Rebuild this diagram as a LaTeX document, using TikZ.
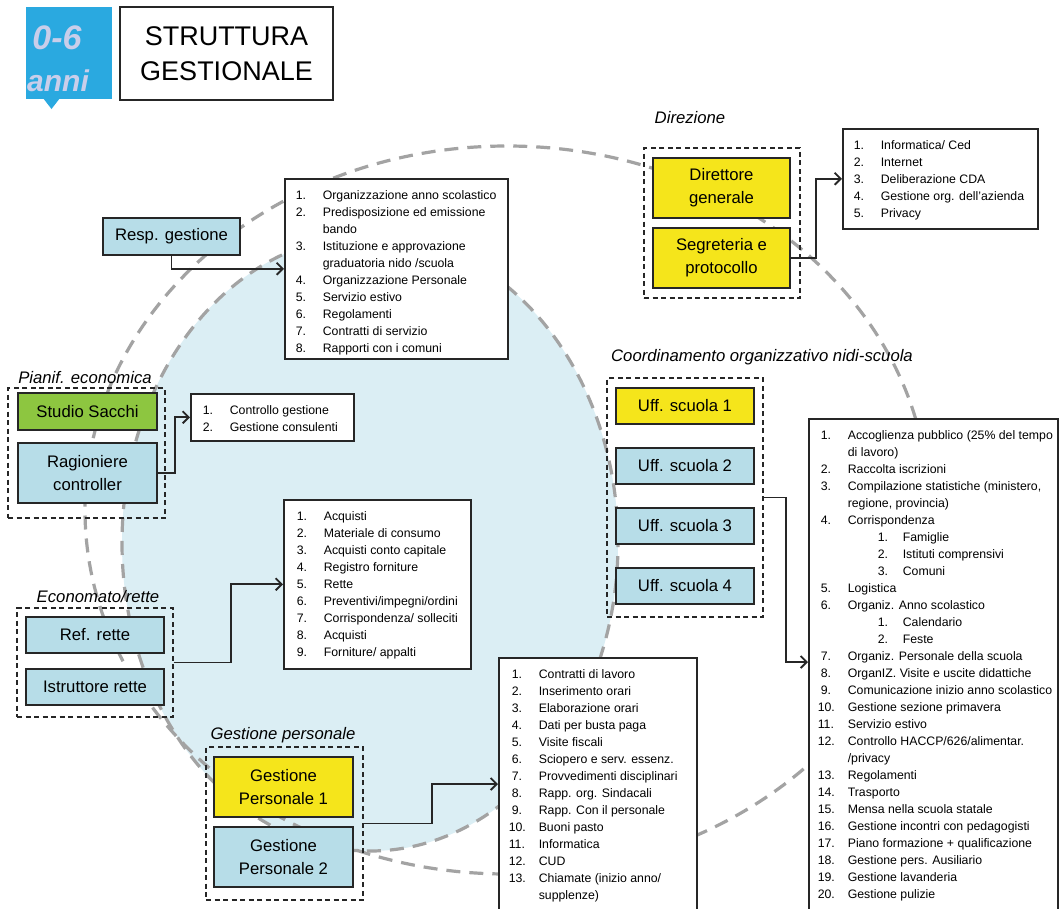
\documentclass[tikz,border=0pt]{standalone}
\usepackage{fontspec}
\setmainfont{Liberation Sans}
\usetikzlibrary{arrows.meta,calc}
\definecolor{yel}{HTML}{F5E51B}
\definecolor{lb}{HTML}{B7DDE8}
\definecolor{lbf}{HTML}{DBEEF4}
\definecolor{grn}{HTML}{8DC640}
\definecolor{logob}{HTML}{2AA9E0}
\definecolor{logot}{HTML}{C9CEEA}
\definecolor{dashc}{HTML}{A3A3A3}
\newcommand\fsz[2]{\fontsize{#1pt}{#2pt}\selectfont}
\newcommand\Litem[2]{\noindent\rule{0pt}{12.5pt}\makebox[27pt][l]{#1}#2\par}
\newcommand\LitemW[2]{\noindent\rule{0pt}{12.5pt}\hspace*{-3pt}\makebox[30pt][l]{#1}#2\par}
\newcommand\Lcont[1]{\noindent\rule{0pt}{12.5pt}\hspace*{27pt}#1\par}
\newcommand\Lsub[2]{\noindent\rule{0pt}{12.5pt}\hspace*{57pt}\makebox[25pt][l]{#1}#2\par}
\newcommand\lbox[4]{\parbox[c][#2pt][t]{#1pt}{\fsz{12.3}{17}\lineskiplimit=-20pt\leftskip=#3pt\rightskip=0pt plus 1fil\parindent=0pt\vspace*{8pt}#4}}
\begin{document}
\begin{tikzpicture}[x=1pt,y=-1pt,
  box/.style={draw=black!85,line width=1.5pt,inner sep=0pt,align=center,font=\fsz{16.7}{23}},
  ybox/.style={box,fill=yel},
  bbox/.style={box,fill=lb},
  gbox/.style={box,fill=grn},
  grp/.style={draw=black!85,line width=1.3pt,dash pattern=on 5pt off 3.5pt,inner sep=0pt},
  lbl/.style={font=\fsz{16.7}{20}\itshape,inner sep=0pt},
  lst/.style={draw=black!85,fill=white,line width=1.6pt,inner sep=0pt,anchor=north west},
  ell/.style={draw=dashc,line width=3.2pt,dash pattern=on 14pt off 9pt},
  arr/.style={-{Straight Barb[length=6pt,width=12pt]},line width=1.9pt,draw=black!85}]
\useasboundingbox (0,0) rectangle (1060,908);
\fill[white] (0,0) rectangle (1060,908);
% circles
\fill[lbf] (370,543) ellipse [x radius=248pt, y radius=308pt];
\draw[ell] (370,543) ellipse [x radius=248pt, y radius=308pt];
\draw[ell] (507,510) ellipse [x radius=422pt, y radius=364pt];
% logo and title
\fill[logob] (26,7) rectangle (112,99);
\fill[logob] (43,98) -- (60,98) -- (51.5,109) -- cycle;
\node[font=\fsz{34}{34}\bfseries\itshape,text=logot,inner sep=0pt] (l06) at (57,38) {0-6};
\node[font=\fsz{30}{30}\bfseries\itshape,text=logot,inner sep=0pt] (lanni) at (58,81) {anni};
\node[draw=black!85,line width=1.8pt,fill=white,minimum width=213pt,minimum height=93pt,font=\fsz{27}{35},align=center,inner sep=0pt] (title) at (226.5,53.5) {STRUTTURA\\GESTIONALE};
% Direzione
\node[lbl] (dirlab) at (690,118) {Direzione};
\node[grp,minimum width=156pt,minimum height=150pt] (dirg) at (722,223) {};
\node[ybox,minimum width=137pt,minimum height=60pt] (dg) at (721.5,188) {Direttore\\generale};
\node[ybox,minimum width=137pt,minimum height=60pt] (seg) at (721.5,258) {Segreteria e\\protocollo};
\node[lst] (dirl) at (842,128) {\lbox{195}{100}{11}{%
\Litem{1.}{Informatica/ Ced}
\Litem{2.}{Internet}
\Litem{3.}{Deliberazione CDA}
\Litem{4.}{Gestione org. dell'azienda}
\Litem{5.}{Privacy}}};
% Resp gestione
\node[bbox,minimum width=137pt,minimum height=37pt] (resp) at (171.5,236.5) {Resp. gestione};
\node[lst] (orgl) at (284,178) {\lbox{223}{180}{11}{%
\Litem{1.}{Organizzazione anno scolastico}
\Litem{2.}{Predisposizione ed emissione}
\Lcont{bando}
\Litem{3.}{Istituzione e approvazione}
\Lcont{graduatoria nido /scuola}
\Litem{4.}{Organizzazione Personale}
\Litem{5.}{Servizio estivo}
\Litem{6.}{Regolamenti}
\Litem{7.}{Contratti di servizio}
\Litem{8.}{Rapporti con i comuni}}};
% Pianif
\node[lbl] (pianlab) at (85,378) {Pianif. economica};
\node[grp,minimum width=157pt,minimum height=130pt] (piang) at (86.5,453) {};
\node[gbox,minimum width=139pt,minimum height=37pt] (studio) at (87.5,411.5) {Studio Sacchi};
\node[bbox,minimum width=139pt,minimum height=60pt] (rag) at (87.5,473) {Ragioniere\\controller};
\node[lst] (pianl) at (190,393) {\lbox{163}{47}{12}{%
\Litem{1.}{Controllo gestione}
\Litem{2.}{Gestione consulenti}}};
% Economato
\node[lbl] (ecolab) at (98,597) {Economato/rette};
\node[grp,minimum width=156pt,minimum height=109pt] (ecog) at (95,662.5) {};
\node[bbox,minimum width=138pt,minimum height=36pt] (refr) at (95,635) {Ref. rette};
\node[bbox,minimum width=138pt,minimum height=36pt] (istr) at (95,687) {Istruttore rette};
\node[lst] (acql) at (283,499) {\lbox{187}{169}{13}{%
\Litem{1.}{Acquisti}
\Litem{2.}{Materiale di consumo}
\Litem{3.}{Acquisti conto capitale}
\Litem{4.}{Registro forniture}
\Litem{5.}{Rette}
\Litem{6.}{Preventivi/impegni/ordini}
\Litem{7.}{Corrispondenza/ solleciti}
\Litem{8.}{Acquisti}
\Litem{9.}{Forniture/ appalti}}};
% Gestione personale
\node[lbl] (gplab) at (283,735) {Gestione personale};
\node[grp,minimum width=157pt,minimum height=153pt] (gpg) at (284.5,823.5) {};
\node[ybox,minimum width=139pt,minimum height=60pt] (gp1) at (283.5,787) {Gestione\\Personale 1};
\node[bbox,minimum width=139pt,minimum height=60pt] (gp2) at (283.5,857) {Gestione\\Personale 2};
\node[lst] (contl) at (498,657) {\lbox{198}{254}{13}{%
\Litem{1.}{Contratti di lavoro}
\Litem{2.}{Inserimento orari}
\Litem{3.}{Elaborazione orari}
\Litem{4.}{Dati per busta paga}
\Litem{5.}{Visite fiscali}
\Litem{6.}{Sciopero e serv. essenz.}
\Litem{7.}{Provvedimenti disciplinari}
\Litem{8.}{Rapp. org. Sindacali}
\Litem{9.}{Rapp. Con il personale}
\LitemW{10.}{Buoni pasto}
\LitemW{11.}{Informatica}
\LitemW{12.}{CUD}
\LitemW{13.}{Chiamate (inizio anno/}
\Lcont{supplenze)}}};
% Coordinamento
\node[lbl] (coordlab) at (762,357) {Coordinamento organizzativo nidi-scuola};
\node[grp,minimum width=156pt,minimum height=239pt] (coordg) at (685,497.5) {};
\node[ybox,minimum width=138pt,minimum height=36pt] (uff1) at (685,406) {Uff. scuola 1};
\node[bbox,minimum width=138pt,minimum height=36pt] (uff2) at (685,466) {Uff. scuola 2};
\node[bbox,minimum width=138pt,minimum height=36pt] (uff3) at (685,526) {Uff. scuola 3};
\node[bbox,minimum width=138pt,minimum height=36pt] (uff4) at (685,586) {Uff. scuola 4};
\node[lst] (bigl) at (808,418) {\lbox{249}{500}{12}{%
\Litem{1.}{Accoglienza pubblico (25\% del tempo}
\Lcont{di lavoro)}
\Litem{2.}{Raccolta iscrizioni}
\Litem{3.}{Compilazione statistiche (ministero,}
\Lcont{regione, provincia)}
\Litem{4.}{Corrispondenza}
\Lsub{1.}{Famiglie}
\Lsub{2.}{Istituti comprensivi}
\Lsub{3.}{Comuni}
\Litem{5.}{Logistica}
\Litem{6.}{Organiz. Anno scolastico}
\Lsub{1.}{Calendario}
\Lsub{2.}{Feste}
\Litem{7.}{Organiz. Personale della scuola}
\Litem{8.}{OrganIZ. Visite e uscite didattiche}
\Litem{9.}{Comunicazione inizio anno scolastico}
\LitemW{10.}{Gestione sezione primavera}
\LitemW{11.}{Servizio estivo}
\LitemW{12.}{Controllo HACCP/626/alimentar.}
\Lcont{/privacy}
\LitemW{13.}{Regolamenti}
\LitemW{14.}{Trasporto}
\LitemW{15.}{Mensa nella scuola statale}
\LitemW{16.}{Gestione incontri con pedagogisti}
\LitemW{17.}{Piano formazione + qualificazione}
\LitemW{18.}{Gestione pers. Ausiliario}
\LitemW{19.}{Gestione lavanderia}
\LitemW{20.}{Gestione pulizie}}};
% connectors
\draw[arr] (seg.east) -- ++(25,0) |- (dirl.west);
\draw[arr] (resp.south) |- (orgl.west);
\draw[arr] (rag.east) -- ++(17,0) |- (pianl.west);
\draw[arr] (ecog.east) -- ++(57,0) |- (acql.west);
\draw[arr] (gpg.east) -- ++(68,0) |- ($(contl.north west)+(0,127)$);
\draw[arr] (coordg.east) -- ++(22,0) |- ($(bigl.north west)+(0,244)$);
\end{tikzpicture}
\end{document}
